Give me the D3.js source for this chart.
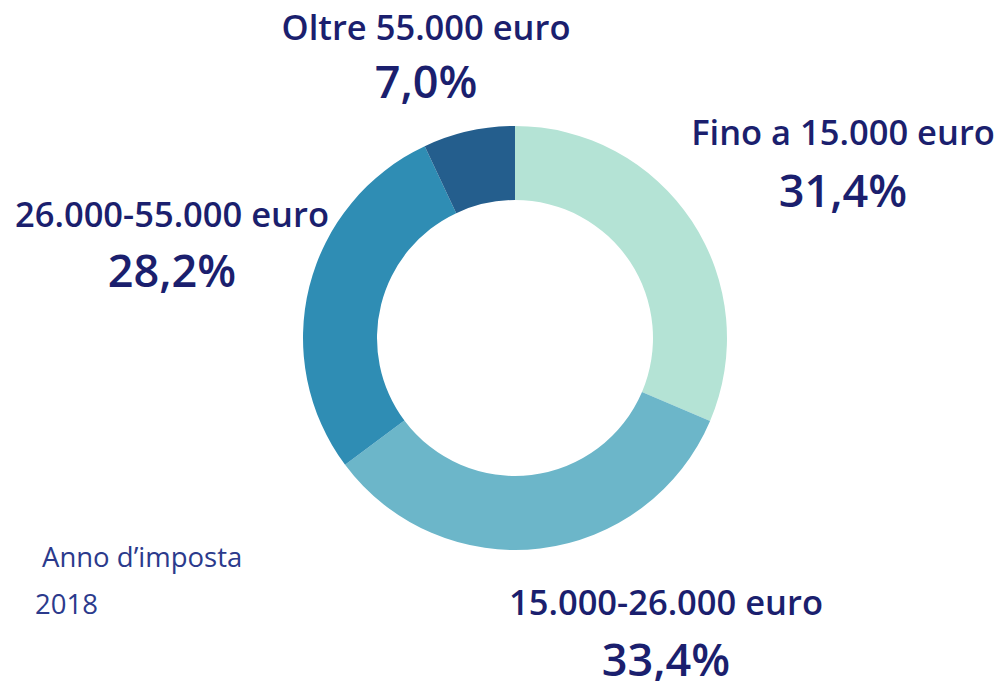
<!DOCTYPE html>
<html>
<head>
<meta charset="utf-8">
<script src="https://cdn.jsdelivr.net/npm/d3@7"></script>
<style>
  html, body { margin: 0; padding: 0; background: #ffffff; }
  svg { display: block; }
</style>
</head>
<body>
<script>
// ---- Data ----
const categories = ["Fino a 15.000 euro", "15.000-26.000 euro", "26.000-55.000 euro", "Oltre 55.000 euro"];
const values = [31.4, 33.4, 28.2, 7.0];
const valueLabels = ["31,4%", "33,4%", "28,2%", "7,0%"];
const colors = ["#b4e3d5", "#6cb6c9", "#2f8db4", "#245e8d"];
const noteLines = ["Anno d\u2019imposta", "2018"];

// ---- Layout ----
const W = 997, H = 681;
const cx = 515, cy = 338, rOuter = 212, rInner = 138;
const labelLayout = [
  { x: 843, y: 145, dy: 62 },
  { x: 666, y: 615, dy: 61 },
  { x: 172, y: 227, dy: 60 },
  { x: 426, y: 40,  dy: 58 }
];
const textColor = "#1b1f6e";

const svg = d3.select("body").append("svg")
  .attr("width", W).attr("height", H);

const pie = d3.pie().sort(null).value(d => d)(values);
const arc = d3.arc().innerRadius(rInner).outerRadius(rOuter);

svg.append("g")
  .attr("transform", `translate(${cx},${cy})`)
  .selectAll("path")
  .data(pie)
  .join("path")
  .attr("d", arc)
  .attr("fill", (d, i) => colors[i]);

const lg = svg.append("g")
  .attr("font-family", "'Open Sans', sans-serif")
  .attr("fill", textColor)
  .attr("text-anchor", "middle");

categories.forEach((c, i) => {
  const p = labelLayout[i];
  lg.append("text")
    .attr("x", p.x).attr("y", p.y)
    .attr("font-size", 34.5).attr("font-weight", 600)
    .text(c);
  lg.append("text")
    .attr("x", p.x).attr("y", p.y + p.dy)
    .attr("font-size", 45).attr("font-weight", 600)
    .text(valueLabels[i]);
});

const ng = svg.append("g")
  .attr("font-family", "'Open Sans', sans-serif")
  .attr("fill", "#2b3a8c")
  .attr("font-size", 27.5);
ng.append("text").attr("x", 42).attr("y", 567).text(noteLines[0]);
ng.append("text").attr("x", 35).attr("y", 614).text(noteLines[1]);
</script>
</body>
</html>
